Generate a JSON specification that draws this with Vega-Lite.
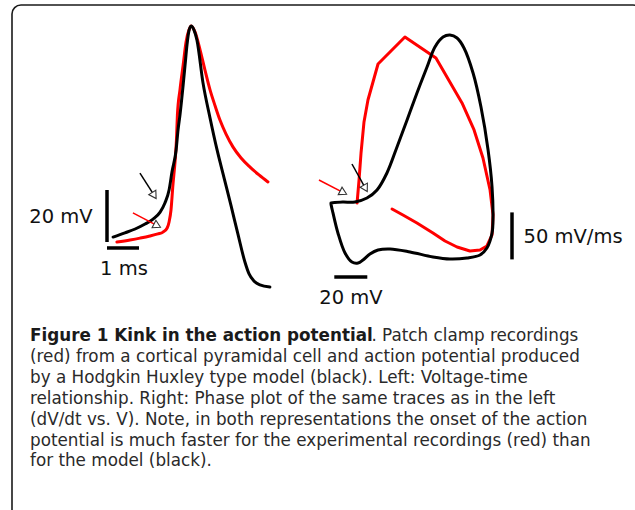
{
  "$schema": "https://vega.github.io/schema/vega-lite/v6.json",
  "autosize": "none",
  "width": 630,
  "height": 515,
  "padding": {"left": 12, "top": 5, "right": 0, "bottom": 0},
  "background": "white",
  "config": {"view": {"stroke": "#1a1a1a", "strokeWidth": 1.6, "cornerRadius": 9}},
  "datasets": {
    "vt": [
      {"trace": "exp", "i": 0, "t": 0.31, "v": -70.0},
      {"trace": "exp", "i": 1, "t": 0.72, "v": -69.2},
      {"trace": "exp", "i": 2, "t": 1.03, "v": -68.5},
      {"trace": "exp", "i": 3, "t": 1.34, "v": -67.7},
      {"trace": "exp", "i": 4, "t": 1.59, "v": -66.9},
      {"trace": "exp", "i": 5, "t": 1.75, "v": -66.2},
      {"trace": "exp", "i": 6, "t": 1.88, "v": -64.6},
      {"trace": "exp", "i": 7, "t": 1.94, "v": -62.3},
      {"trace": "exp", "i": 8, "t": 2.0, "v": -57.7},
      {"trace": "exp", "i": 9, "t": 2.06, "v": -48.1},
      {"trace": "exp", "i": 10, "t": 2.13, "v": -38.5},
      {"trace": "exp", "i": 11, "t": 2.17, "v": -30.8},
      {"trace": "exp", "i": 12, "t": 2.2, "v": -21.2},
      {"trace": "exp", "i": 13, "t": 2.28, "v": -11.5},
      {"trace": "exp", "i": 14, "t": 2.38, "v": -1.9},
      {"trace": "exp", "i": 15, "t": 2.47, "v": 6.9},
      {"trace": "exp", "i": 16, "t": 2.56, "v": 11.5},
      {"trace": "exp", "i": 17, "t": 2.63, "v": 13.1},
      {"trace": "exp", "i": 18, "t": 2.75, "v": 10.8},
      {"trace": "exp", "i": 19, "t": 2.91, "v": 3.8},
      {"trace": "exp", "i": 20, "t": 3.06, "v": -3.8},
      {"trace": "exp", "i": 21, "t": 3.22, "v": -11.5},
      {"trace": "exp", "i": 22, "t": 3.38, "v": -17.7},
      {"trace": "exp", "i": 23, "t": 3.53, "v": -23.1},
      {"trace": "exp", "i": 24, "t": 3.72, "v": -28.5},
      {"trace": "exp", "i": 25, "t": 3.94, "v": -33.5},
      {"trace": "exp", "i": 26, "t": 4.19, "v": -37.7},
      {"trace": "exp", "i": 27, "t": 4.47, "v": -41.2},
      {"trace": "exp", "i": 28, "t": 4.75, "v": -44.2},
      {"trace": "exp", "i": 29, "t": 5.03, "v": -46.9},
      {"trace": "model", "i": 0, "t": 0.19, "v": -68.1},
      {"trace": "model", "i": 1, "t": 0.56, "v": -66.5},
      {"trace": "model", "i": 2, "t": 0.88, "v": -65.0},
      {"trace": "model", "i": 3, "t": 1.19, "v": -63.1},
      {"trace": "model", "i": 4, "t": 1.44, "v": -61.2},
      {"trace": "model", "i": 5, "t": 1.66, "v": -58.5},
      {"trace": "model", "i": 6, "t": 1.81, "v": -55.0},
      {"trace": "model", "i": 7, "t": 1.94, "v": -50.0},
      {"trace": "model", "i": 8, "t": 2.03, "v": -43.1},
      {"trace": "model", "i": 9, "t": 2.16, "v": -34.6},
      {"trace": "model", "i": 10, "t": 2.22, "v": -26.9},
      {"trace": "model", "i": 11, "t": 2.28, "v": -21.2},
      {"trace": "model", "i": 12, "t": 2.38, "v": -9.6},
      {"trace": "model", "i": 13, "t": 2.44, "v": -1.9},
      {"trace": "model", "i": 14, "t": 2.5, "v": 5.8},
      {"trace": "model", "i": 15, "t": 2.56, "v": 11.2},
      {"trace": "model", "i": 16, "t": 2.63, "v": 13.1},
      {"trace": "model", "i": 17, "t": 2.72, "v": 11.5},
      {"trace": "model", "i": 18, "t": 2.81, "v": 7.7},
      {"trace": "model", "i": 19, "t": 3.0, "v": -8.8},
      {"trace": "model", "i": 20, "t": 3.22, "v": -22.3},
      {"trace": "model", "i": 21, "t": 3.44, "v": -34.6},
      {"trace": "model", "i": 22, "t": 3.66, "v": -45.4},
      {"trace": "model", "i": 23, "t": 3.88, "v": -56.2},
      {"trace": "model", "i": 24, "t": 4.09, "v": -66.9},
      {"trace": "model", "i": 25, "t": 4.31, "v": -77.7},
      {"trace": "model", "i": 26, "t": 4.44, "v": -82.3},
      {"trace": "model", "i": 27, "t": 4.59, "v": -85.0},
      {"trace": "model", "i": 28, "t": 4.78, "v": -86.5},
      {"trace": "model", "i": 29, "t": 5.09, "v": -87.3}
    ],
    "vtBars": [
      {"t": 0, "t2": 0, "v": -70, "v2": -50},
      {"t": 0, "t2": 1, "v": -72.3, "v2": -72.3}
    ],
    "vtText": [
      {"label": "20 mV", "t": -1.44, "v": -60.4},
      {"label": "1 ms", "t": 0.53, "v": -80.4}
    ],
    "vtArrows": [
      {"trace": "model", "t": 1.03, "v": -43.5, "t2": 1.475, "v2": -52.1},
      {"trace": "exp", "t": 0.81, "v": -58.8, "t2": 1.57, "v2": -63.7}
    ],
    "phase": [
      {"trace": "exp", "i": 0, "v": -71.2, "dvdt": 0},
      {"trace": "exp", "i": 1, "v": -70.0, "dvdt": 24.5},
      {"trace": "exp", "i": 2, "v": -68.8, "dvdt": 53.2},
      {"trace": "exp", "i": 3, "v": -67.0, "dvdt": 86.2},
      {"trace": "exp", "i": 4, "v": -64.6, "dvdt": 109.6},
      {"trace": "exp", "i": 5, "v": -58.5, "dvdt": 147.9},
      {"trace": "exp", "i": 6, "v": -42.2, "dvdt": 176.6},
      {"trace": "exp", "i": 7, "v": -23.4, "dvdt": 154.3},
      {"trace": "exp", "i": 8, "v": -7.6, "dvdt": 106.4},
      {"trace": "exp", "i": 9, "v": -0.3, "dvdt": 77.7},
      {"trace": "exp", "i": 10, "v": 5.1, "dvdt": 47.9},
      {"trace": "exp", "i": 11, "v": 9.4, "dvdt": 13.8},
      {"trace": "exp", "i": 12, "v": 11.2, "dvdt": -12.8},
      {"trace": "exp", "i": 13, "v": 10.6, "dvdt": -34.0},
      {"trace": "exp", "i": 14, "v": 7.5, "dvdt": -45.7},
      {"trace": "exp", "i": 15, "v": 3.3, "dvdt": -50.0},
      {"trace": "exp", "i": 16, "v": -2.8, "dvdt": -51.1},
      {"trace": "exp", "i": 17, "v": -10.6, "dvdt": -46.8},
      {"trace": "exp", "i": 18, "v": -17.9, "dvdt": -40.4},
      {"trace": "exp", "i": 19, "v": -25.2, "dvdt": -31.9},
      {"trace": "exp", "i": 20, "v": -34.9, "dvdt": -21.3},
      {"trace": "exp", "i": 21, "v": -43.4, "dvdt": -12.8},
      {"trace": "exp", "i": 22, "v": -50.0, "dvdt": -6.4},
      {"trace": "model", "i": 0, "v": -87.0, "dvdt": 0},
      {"trace": "model", "i": 1, "v": -80.0, "dvdt": 1.0},
      {"trace": "model", "i": 2, "v": -72.5, "dvdt": 1.1},
      {"trace": "model", "i": 3, "v": -65.2, "dvdt": 5.3},
      {"trace": "model", "i": 4, "v": -59.1, "dvdt": 13.8},
      {"trace": "model", "i": 5, "v": -53.1, "dvdt": 31.9},
      {"trace": "model", "i": 6, "v": -47.0, "dvdt": 59.6},
      {"trace": "model", "i": 7, "v": -40.9, "dvdt": 88.3},
      {"trace": "model", "i": 8, "v": -34.9, "dvdt": 117.0},
      {"trace": "model", "i": 9, "v": -28.8, "dvdt": 144.7},
      {"trace": "model", "i": 10, "v": -24.0, "dvdt": 166.0},
      {"trace": "model", "i": 11, "v": -19.1, "dvdt": 176.6},
      {"trace": "model", "i": 12, "v": -14.9, "dvdt": 178.7},
      {"trace": "model", "i": 13, "v": -10.6, "dvdt": 175.5},
      {"trace": "model", "i": 14, "v": -6.4, "dvdt": 164.9},
      {"trace": "model", "i": 15, "v": -0.9, "dvdt": 138.3},
      {"trace": "model", "i": 16, "v": 3.9, "dvdt": 102.1},
      {"trace": "model", "i": 17, "v": 8.2, "dvdt": 56.4},
      {"trace": "model", "i": 18, "v": 10.6, "dvdt": 17.0},
      {"trace": "model", "i": 19, "v": 11.2, "dvdt": -14.9},
      {"trace": "model", "i": 20, "v": 10.6, "dvdt": -31.9},
      {"trace": "model", "i": 21, "v": 7.5, "dvdt": -47.9},
      {"trace": "model", "i": 22, "v": 3.3, "dvdt": -55.3},
      {"trace": "model", "i": 23, "v": -4.6, "dvdt": -58.5},
      {"trace": "model", "i": 24, "v": -14.9, "dvdt": -59.6},
      {"trace": "model", "i": 25, "v": -25.2, "dvdt": -57.4},
      {"trace": "model", "i": 26, "v": -39.1, "dvdt": -52.1},
      {"trace": "model", "i": 27, "v": -51.2, "dvdt": -48.9},
      {"trace": "model", "i": 28, "v": -58.5, "dvdt": -50.0},
      {"trace": "model", "i": 29, "v": -63.4, "dvdt": -54.3},
      {"trace": "model", "i": 30, "v": -67.6, "dvdt": -60.6},
      {"trace": "model", "i": 31, "v": -70.6, "dvdt": -63.8},
      {"trace": "model", "i": 32, "v": -74.3, "dvdt": -62.8},
      {"trace": "model", "i": 33, "v": -78.5, "dvdt": -53.2},
      {"trace": "model", "i": 34, "v": -82.8, "dvdt": -31.9},
      {"trace": "model", "i": 35, "v": -85.8, "dvdt": -10.6},
      {"trace": "model", "i": 36, "v": -87.0, "dvdt": -1.1},
      {"trace": "model", "i": 37, "v": -87.0, "dvdt": 0}
    ],
    "phBars": [
      {"v": 22.7, "v2": 22.7, "dvdt": -60, "dvdt2": -10},
      {"v": -85, "v2": -65, "dvdt": -78.7, "dvdt2": -78.7}
    ],
    "phText": [
      {"label": "50 mV/ms", "v": 59.7, "dvdt": -36.2},
      {"label": "20 mV", "v": -74.9, "dvdt": -101.1}
    ],
    "phArrows": [
      {"trace": "exp", "v": -94.3, "dvdt": 24.5, "v2": -79.5, "dvdt2": 11.1},
      {"trace": "model", "v": -74.3, "dvdt": 41.5, "v2": -66.1, "dvdt2": 15.6}
    ],
    "captionBold": [
      {"line": 1, "x": 0, "text": "Figure 1 Kink in the action potential"}
    ],
    "caption": [
      {"line": 1, "x": 0.569, "text": ". Patch clamp recordings"},
      {"line": 2, "x": 0, "text": "(red) from a cortical pyramidal cell and action potential produced"},
      {"line": 3, "x": 0, "text": "by a Hodgkin Huxley type model (black). Left: Voltage-time"},
      {"line": 4, "x": 0, "text": "relationship. Right: Phase plot of the same traces as in the left"},
      {"line": 5, "x": 0, "text": "(dV/dt vs. V). Note, in both representations the onset of the action"},
      {"line": 6, "x": 0, "text": "potential is much faster for the experimental recordings (red) than"},
      {"line": 7, "x": 0, "text": "for the model (black)."}
    ]
  },
  "layer": [
    {
      "encoding": {
        "x": {"field": "t", "type": "quantitative", "axis": null, "scale": {"domain": [-1, 6], "range": [63, 287], "nice": false, "zero": false}},
        "y": {"field": "v", "type": "quantitative", "axis": null, "scale": {"domain": [-90, 20], "range": [289, 3], "nice": false, "zero": false}}
      },
      "layer": [
        {
          "data": {"name": "vt"},
          "transform": [{"filter": "datum.trace == 'exp'"}],
          "mark": {"type": "line", "stroke": "#ff0000", "strokeWidth": 3, "strokeCap": "round", "strokeJoin": "round", "interpolate": "monotone"},
          "encoding": {"order": {"field": "i", "type": "quantitative"}}
        },
        {
          "data": {"name": "vt"},
          "transform": [{"filter": "datum.trace == 'model'"}],
          "mark": {"type": "line", "stroke": "#000000", "strokeWidth": 3, "strokeCap": "round", "strokeJoin": "round", "interpolate": "monotone"},
          "encoding": {"order": {"field": "i", "type": "quantitative"}}
        },
        {
          "data": {"name": "vtBars"},
          "mark": {"type": "rule", "stroke": "#000000", "strokeWidth": 3.5},
          "encoding": {"x2": {"field": "t2"}, "y2": {"field": "v2"}}
        },
        {
          "data": {"name": "vtText"},
          "mark": {"type": "text", "font": "DejaVu Sans", "fontSize": 19.5, "fill": "#111111", "align": "center", "baseline": "middle"},
          "encoding": {"text": {"field": "label"}}
        },
        {
          "data": {"name": "vtArrows"},
          "mark": {"type": "rule", "strokeWidth": 1.5},
          "encoding": {"x2": {"field": "t2"}, "y2": {"field": "v2"}, "color": {"field": "trace", "type": "nominal", "scale": {"domain": ["exp", "model"], "range": ["#ff0000", "#000000"]}, "legend": null}}
        },
        {
          "data": {"name": "vtArrows"},
          "transform": [{"filter": "datum.trace == 'model'"}],
          "mark": {"type": "point", "shape": "triangle-up", "filled": true, "fill": "white", "stroke": "#333333", "strokeWidth": 1.1, "opacity": 1, "size": 70, "angle": 148},
          "encoding": {"x": {"field": "t2", "type": "quantitative"}, "y": {"field": "v2", "type": "quantitative"}}
        },
        {
          "data": {"name": "vtArrows"},
          "transform": [{"filter": "datum.trace == 'exp'"}],
          "mark": {"type": "point", "shape": "triangle-up", "filled": true, "fill": "white", "stroke": "#333333", "strokeWidth": 1.1, "opacity": 1, "size": 70, "angle": 117},
          "encoding": {"x": {"field": "t2", "type": "quantitative"}, "y": {"field": "v2", "type": "quantitative"}}
        }
      ]
    },
    {
      "encoding": {
        "x": {"field": "v", "type": "quantitative", "axis": null, "scale": {"domain": [-100, 30], "range": [297.55, 512.05], "nice": false, "zero": false}},
        "y": {"field": "dvdt", "type": "quantitative", "axis": null, "scale": {"domain": [-100, 200], "range": [292, 10], "nice": false, "zero": false}}
      },
      "layer": [
        {
          "data": {"name": "phase"},
          "transform": [{"filter": "datum.trace == 'exp'"}],
          "mark": {"type": "line", "stroke": "#ff0000", "strokeWidth": 3, "strokeCap": "round", "strokeJoin": "round"},
          "encoding": {"order": {"field": "i", "type": "quantitative"}}
        },
        {
          "data": {"name": "phase"},
          "transform": [{"filter": "datum.trace == 'model'"}],
          "mark": {"type": "line", "stroke": "#000000", "strokeWidth": 3, "strokeCap": "round", "strokeJoin": "round", "interpolate": "catmull-rom"},
          "encoding": {"order": {"field": "i", "type": "quantitative"}}
        },
        {
          "data": {"name": "phBars"},
          "mark": {"type": "rule", "stroke": "#000000", "strokeWidth": 3.5},
          "encoding": {"x2": {"field": "v2"}, "y2": {"field": "dvdt2"}}
        },
        {
          "data": {"name": "phText"},
          "mark": {"type": "text", "font": "DejaVu Sans", "fontSize": 19.5, "fill": "#111111", "align": "center", "baseline": "middle"},
          "encoding": {"text": {"field": "label"}}
        },
        {
          "data": {"name": "phArrows"},
          "mark": {"type": "rule", "strokeWidth": 1.5},
          "encoding": {"x2": {"field": "v2"}, "y2": {"field": "dvdt2"}, "color": {"field": "trace", "type": "nominal", "scale": {"domain": ["exp", "model"], "range": ["#ff0000", "#000000"]}, "legend": null}}
        },
        {
          "data": {"name": "phArrows"},
          "transform": [{"filter": "datum.trace == 'model'"}],
          "mark": {"type": "point", "shape": "triangle-up", "filled": true, "fill": "white", "stroke": "#333333", "strokeWidth": 1.1, "opacity": 1, "size": 70, "angle": 151},
          "encoding": {"x": {"field": "v2", "type": "quantitative"}, "y": {"field": "dvdt2", "type": "quantitative"}}
        },
        {
          "data": {"name": "phArrows"},
          "transform": [{"filter": "datum.trace == 'exp'"}],
          "mark": {"type": "point", "shape": "triangle-up", "filled": true, "fill": "white", "stroke": "#333333", "strokeWidth": 1.1, "opacity": 1, "size": 70, "angle": 117},
          "encoding": {"x": {"field": "v2", "type": "quantitative"}, "y": {"field": "dvdt2", "type": "quantitative"}}
        }
      ]
    },
    {
      "encoding": {
        "x": {"field": "x", "type": "quantitative", "axis": null, "scale": {"domain": [0, 1], "range": [18, 618], "nice": false, "zero": false}},
        "y": {"field": "line", "type": "quantitative", "axis": null, "scale": {"domain": [1, 7], "range": [336, 461.4], "nice": false, "zero": false}},
        "text": {"field": "text"}
      },
      "layer": [
        {
          "data": {"name": "captionBold"},
          "mark": {"type": "text", "font": "DejaVu Sans", "fontSize": 16.8, "fontWeight": "bold", "fill": "#1a1a1a", "align": "left", "baseline": "alphabetic"}
        },
        {
          "data": {"name": "caption"},
          "mark": {"type": "text", "font": "DejaVu Sans", "fontSize": 16.8, "fill": "#2a2a2a", "align": "left", "baseline": "alphabetic"}
        }
      ]
    }
  ],
  "resolve": {"scale": {"x": "independent", "y": "independent", "color": "shared"}}
}
